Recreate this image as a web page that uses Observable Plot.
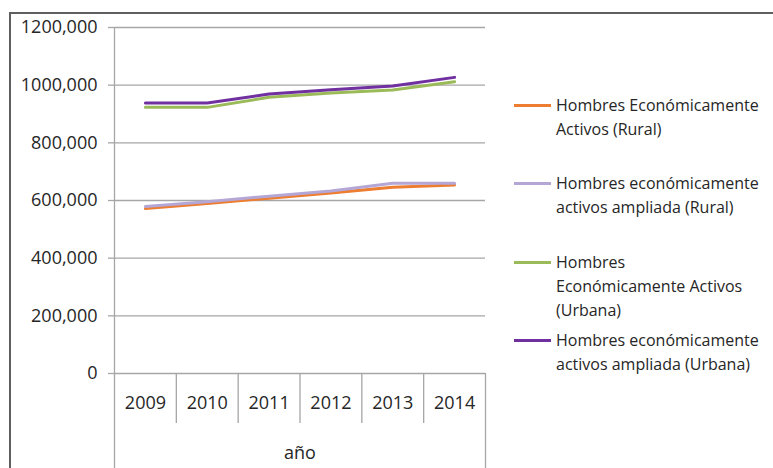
<!DOCTYPE html>
<html>
<head>
<meta charset="utf-8">
<script src="https://cdn.jsdelivr.net/npm/d3@7"></script>
<script src="https://cdn.jsdelivr.net/npm/@observablehq/plot@0.6"></script>
<style>
  html, body { margin: 0; padding: 0; background: #fff; }
  #wrap { position: relative; width: 773px; height: 468px; overflow: hidden; font-family: "Open Sans", sans-serif; color: #262626; }
  #chart { position: absolute; left: 0; top: 0; }
  #frame { position: absolute; z-index: 10; left: 9px; top: 12px; width: 800px; height: 500px; border-left: 2px solid #5f5f5f; border-top: 2px solid #5f5f5f; box-sizing: border-box; pointer-events: none; }
  .leg { position: absolute; left: 514px; font-size: 16px; line-height: 24px; white-space: nowrap; }
  .leg .sw { position: absolute; left: 0; width: 37px; height: 3px; top: 11px; }
  .leg .tx { position: absolute; left: 42px; top: 0; }
</style>
</head>
<body>
<div id="wrap"><div id="chart"></div><div id="legend"></div><div id="frame"></div></div>
<script>
const years = [2009, 2010, 2011, 2012, 2013, 2014];
const ruralActivos   = [572000, 590000, 608000, 626000, 646000, 654000];
const ruralAmpliada  = [579000, 596000, 615000, 633000, 660000, 660000];
const urbanaActivos  = [923000, 923000, 958000, 973000, 983000, 1012000];
const urbanaAmpliada = [938000, 938000, 969000, 984000, 997000, 1027000];
const seriesNames = [
  "Hombres Económicamente Activos (Rural)",
  "Hombres económicamente activos ampliada (Rural)",
  "Hombres Económicamente Activos (Urbana)",
  "Hombres económicamente activos ampliada (Urbana)"
];
const legendLines = [
  ["Hombres Económicamente", "Activos (Rural)"],
  ["Hombres económicamente", "activos ampliada (Rural)"],
  ["Hombres", "Económicamente Activos", "(Urbana)"],
  ["Hombres económicamente", "activos ampliada (Urbana)"]
];
const colors = ["#ED7D31", "#B4A7D6", "#9BBB59", "#7030A0"];
const yTicks = [0, 200000, 400000, 600000, 800000, 1000000, 1200000];
const xLabel = "año";

const seriesValues = [ruralActivos, ruralAmpliada, urbanaActivos, urbanaAmpliada];
const data = [];
seriesValues.forEach((vals, i) => years.forEach((yr, j) => data.push({series: seriesNames[i], year: yr, value: vals[j]})));

const bounds = [...years.map(y => y - 0.5), years[years.length - 1] + 0.5];
const inner = bounds.slice(1, -1);

const W = 773, H = 468, mL = 114, mR = 288, mT = 27, mB = 95;
const plotH = H - mT - mB;
const yMax = 1200000;
const perPx = yMax / plotH;
const sepBottom = -50 * perPx;
const edgeBottom = -mB * perPx;
const fmt = v => v === 0 ? "0" : `${Math.round(v / 1000)},000`;
const grid = "#a6a6a6";

const chart = Plot.plot({
  width: W, height: H,
  marginLeft: mL, marginRight: mR, marginTop: mT, marginBottom: mB,
  x: {type: "linear", domain: [bounds[0], bounds[bounds.length - 1]]},
  y: {domain: [0, yMax]},
  color: {domain: seriesNames, range: colors},
  style: {fontFamily: "Open Sans", fontSize: "18px", color: "#262626", background: "transparent", overflow: "visible"},
  marks: [
    Plot.ruleY(yTicks, {stroke: grid, strokeWidth: 1.3}),
    Plot.ruleX(inner, {x: d => d, y1: 0, y2: sepBottom, stroke: grid, strokeWidth: 1.3}),
    Plot.ruleX([bounds[0]], {x: d => d, y1: yMax, y2: edgeBottom, stroke: grid, strokeWidth: 1.3}),
    Plot.ruleX([bounds[bounds.length - 1]], {x: d => d, y1: 0, y2: edgeBottom, stroke: grid, strokeWidth: 1.3}),
    Plot.axisY({ticks: yTicks, tickSize: 6, tickPadding: 11, tickFormat: fmt, stroke: grid, fill: "#262626", strokeWidth: 1.3, label: null}),
    Plot.axisX({ticks: years, tickSize: 0, tickPadding: 23, tickFormat: d => String(d), fill: "#262626", label: null}),
    Plot.text([xLabel], {frameAnchor: "bottom", dy: 85, fill: "#262626"}),
    Plot.line(data, {x: "year", y: "value", z: "series", stroke: "series", strokeWidth: 3, strokeLinejoin: "round"})
  ]
});
document.getElementById("chart").appendChild(chart);

const legendTops = [93, 171, 250, 328];
const leg = document.getElementById("legend");
legendLines.forEach((lines, i) => {
  const div = document.createElement("div");
  div.className = "leg";
  div.style.top = legendTops[i] + "px";
  div.innerHTML = `<div class="sw" style="background:${colors[i]}"></div><div class="tx">${lines.join("<br>")}</div>`;
  leg.appendChild(div);
});
</script>
</body>
</html>
